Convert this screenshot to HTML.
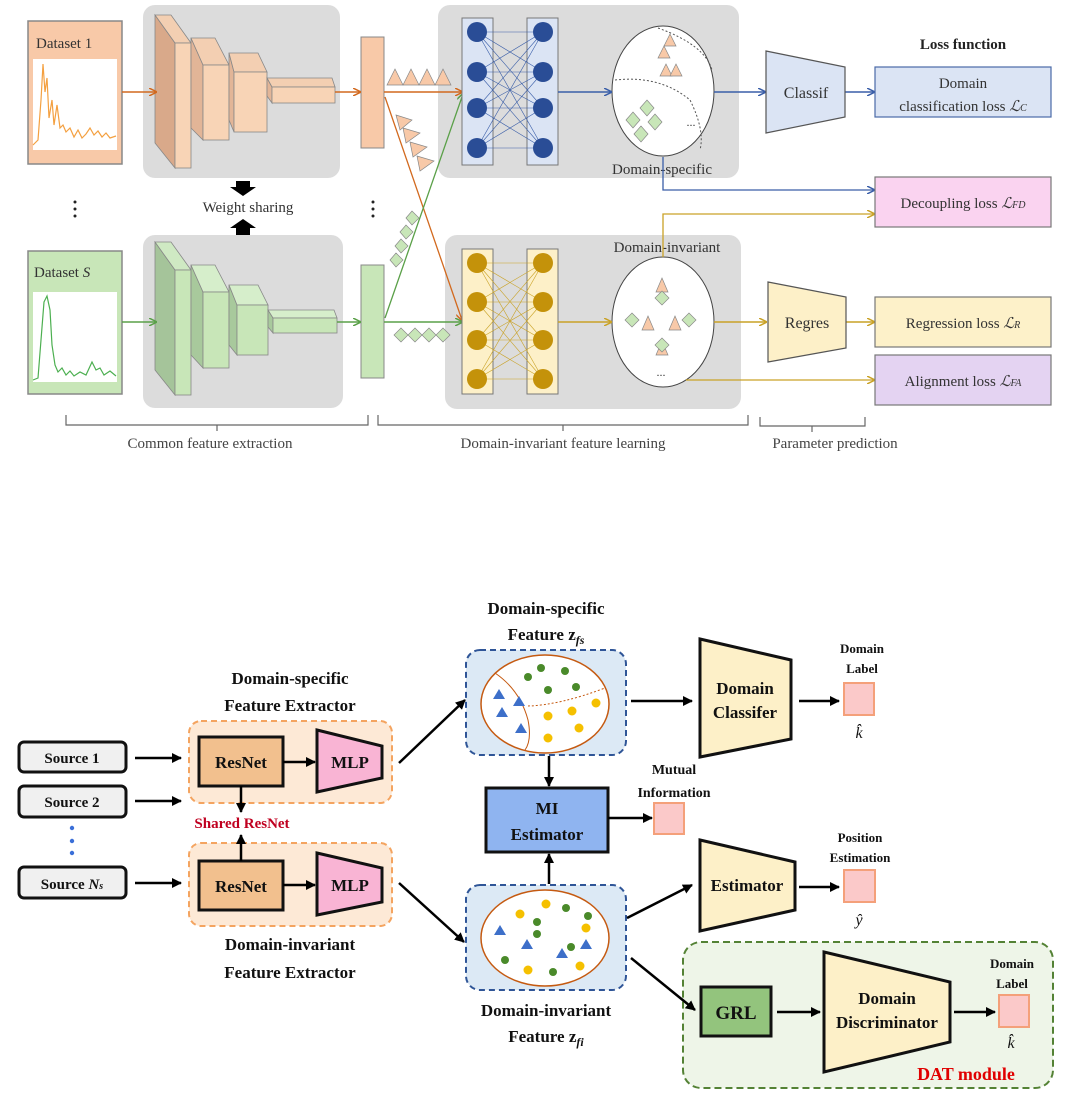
<!DOCTYPE html>
<html><head><meta charset="utf-8"><style>
html,body{margin:0;padding:0;background:#fff;}
svg{display:block;}
text{font-family:"Liberation Serif",serif;}
</style></head><body>
<svg width="1088" height="1118" viewBox="0 0 1088 1118" xmlns="http://www.w3.org/2000/svg">
<defs>
<marker id="ao" markerWidth="8" markerHeight="8" refX="7" refY="4" orient="auto" markerUnits="userSpaceOnUse"><path d="M0,0 L8,4 L0,8" fill="none" stroke="#d2691e" stroke-width="1.5"/></marker>
<marker id="ag" markerWidth="8" markerHeight="8" refX="7" refY="4" orient="auto" markerUnits="userSpaceOnUse"><path d="M0,0 L8,4 L0,8" fill="none" stroke="#5aa048" stroke-width="1.5"/></marker>
<marker id="ab" markerWidth="8" markerHeight="8" refX="7" refY="4" orient="auto" markerUnits="userSpaceOnUse"><path d="M0,0 L8,4 L0,8" fill="none" stroke="#3a5ea8" stroke-width="1.5"/></marker>
<marker id="ay" markerWidth="8" markerHeight="8" refX="7" refY="4" orient="auto" markerUnits="userSpaceOnUse"><path d="M0,0 L8,4 L0,8" fill="none" stroke="#c9a227" stroke-width="1.5"/></marker>
<marker id="ak" markerWidth="10" markerHeight="10" refX="9" refY="5" orient="auto" markerUnits="userSpaceOnUse"><path d="M0,0 L10,5 L0,10 Z" fill="#000"/></marker>
</defs>

<!-- ============ TOP DIAGRAM ============ -->
<rect x="143" y="5" width="197" height="173" rx="12" fill="#dcdcdc"/>
<rect x="143" y="235" width="200" height="173" rx="12" fill="#dcdcdc"/>
<rect x="438" y="5" width="301" height="173" rx="12" fill="#dcdcdc"/>
<rect x="445" y="235" width="296" height="174" rx="12" fill="#dcdcdc"/>

<!-- Dataset 1 -->
<rect x="28" y="21" width="94" height="143" fill="#f8c9a8" stroke="#888" stroke-width="1.5"/>
<rect x="33" y="59" width="84" height="91" fill="#fff"/>
<text x="36" y="48" font-size="15" fill="#333">Dataset 1</text>
<polyline points="33,145 38,140 41,100 43,64 45,92 47,78 49,118 52,100 54,125 57,105 60,128 63,125 66,132 70,128 74,137 78,130 82,138 86,134 90,128 94,135 98,131 102,137 106,133 110,138 116,136" fill="none" stroke="#f4a040" stroke-width="1.2"/>

<!-- Dataset S -->
<rect x="28" y="251" width="94" height="143" fill="#c8e6b8" stroke="#888" stroke-width="1.5"/>
<rect x="33" y="292" width="84" height="90" fill="#fff"/>
<text x="34" y="277" font-size="15" fill="#333">Dataset <tspan font-style="italic">S</tspan></text>
<polyline points="33,380 38,378 41,340 44,302 47,296 50,310 52,345 55,365 58,372 62,368 66,375 70,371 74,376 80,372 86,375 92,362 96,370 100,368 104,375 110,371 116,376" fill="none" stroke="#4caf50" stroke-width="1.2"/>

<!-- orange conv blocks -->
<g stroke="#888" stroke-width="0.8">
<polygon points="155,15 175,43 175,168 155,143" fill="#d9a98a"/>
<polygon points="155,15 171,15 191,43 175,43" fill="#f3cfb2"/>
<rect x="175" y="43" width="16" height="125" fill="#f8d4b6"/>
<polygon points="191,38 203,65 203,140 191,128" fill="#e2b597"/>
<polygon points="191,38 215,38 229,65 203,65" fill="#f3cfb2"/>
<rect x="203" y="65" width="26" height="75" fill="#f8d4b6"/>
<polygon points="229,53 234,72 234,132 229,120" fill="#e2b597"/>
<polygon points="229,53 258,53 267,72 234,72" fill="#f3cfb2"/>
<rect x="234" y="72" width="33" height="60" fill="#f8d4b6"/>
<polygon points="267,78 272,87 272,103 267,96" fill="#e2b597"/>
<polygon points="267,78 332,78 335,87 272,87" fill="#f3cfb2"/>
<rect x="272" y="87" width="63" height="16" fill="#f8d4b6"/>
</g>
<!-- green conv blocks -->
<g stroke="#888" stroke-width="0.8">
<polygon points="155,242 175,270 175,395 155,370" fill="#a5c49a"/>
<polygon points="155,242 171,242 191,270 175,270" fill="#cfe9c3"/>
<rect x="175" y="270" width="16" height="125" fill="#c8e6b8"/>
<polygon points="191,265 203,292 203,368 191,355" fill="#a8c99c"/>
<polygon points="191,265 215,265 229,292 203,292" fill="#d6eecb"/>
<rect x="203" y="292" width="26" height="76" fill="#c8e6b8"/>
<polygon points="229,285 237,305 237,355 229,345" fill="#a8c99c"/>
<polygon points="229,285 258,285 268,305 237,305" fill="#d6eecb"/>
<rect x="237" y="305" width="31" height="50" fill="#c8e6b8"/>
<polygon points="268,310 273,318 273,333 268,327" fill="#a8c99c"/>
<polygon points="268,310 334,310 337,318 273,318" fill="#d6eecb"/>
<rect x="273" y="318" width="64" height="15" fill="#c8e6b8"/>
</g>

<!-- bars -->
<rect x="361" y="37" width="23" height="111" fill="#f8c9a8" stroke="#888"/>
<rect x="361" y="265" width="23" height="113" fill="#c8e6b8" stroke="#888"/>

<!-- arrows orange -->
<line x1="122" y1="92" x2="156" y2="92" stroke="#d2691e" stroke-width="1.5" marker-end="url(#ao)"/>
<line x1="335" y1="92" x2="360" y2="92" stroke="#d2691e" stroke-width="1.5" marker-end="url(#ao)"/>
<line x1="384" y1="92" x2="462" y2="92" stroke="#d2691e" stroke-width="1.5" marker-end="url(#ao)"/>
<line x1="385" y1="97" x2="462" y2="320" stroke="#d2691e" stroke-width="1.3" marker-end="url(#ao)"/>
<!-- arrows green -->
<line x1="122" y1="322" x2="156" y2="322" stroke="#5aa048" stroke-width="1.5" marker-end="url(#ag)"/>
<line x1="337" y1="322" x2="360" y2="322" stroke="#5aa048" stroke-width="1.5" marker-end="url(#ag)"/>
<line x1="384" y1="322" x2="462" y2="322" stroke="#5aa048" stroke-width="1.5" marker-end="url(#ag)"/>
<line x1="385" y1="318" x2="463" y2="94" stroke="#5aa048" stroke-width="1.3" marker-end="url(#ag)"/>

<!-- triangles row -->
<g fill="#f8c9a8" stroke="#888" stroke-width="0.7">
<polygon points="387,85 395,69 403,85"/><polygon points="403,85 411,69 419,85"/><polygon points="419,85 427,69 435,85"/><polygon points="435,85 443,69 451,85"/>
<polygon points="396,115 412,120 400,130"/><polygon points="403,128 420,133 406,143"/><polygon points="410,142 427,147 413,157"/><polygon points="417,156 434,161 420,171"/>
</g>
<!-- diamonds -->
<g fill="#c8e6b8" stroke="#888" stroke-width="0.7">
<polygon points="394,335 401,328 408,335 401,342"/><polygon points="408,335 415,328 422,335 415,342"/><polygon points="422,335 429,328 436,335 429,342"/><polygon points="436,335 443,328 450,335 443,342"/>
<polygon points="406,218 412,211 419,218 412,225"/><polygon points="400,232 406,225 413,232 406,239"/><polygon points="395,246 401,239 408,246 401,253"/><polygon points="390,260 396,253 403,260 396,267"/>
</g>

<!-- dots -->
<g fill="#222"><circle cx="75" cy="202" r="1.5"/><circle cx="75" cy="209" r="1.5"/><circle cx="75" cy="216" r="1.5"/>
<circle cx="373" cy="202" r="1.5"/><circle cx="373" cy="209" r="1.5"/><circle cx="373" cy="216" r="1.5"/></g>
<text x="248" y="212" font-size="15" fill="#333" text-anchor="middle">Weight sharing</text>
<polygon points="236,181 250,181 250,187 256,187 243,196 230,187 236,187" fill="#000"/>
<polygon points="243,219 256,228 250,228 250,235 236,235 236,228 230,228" fill="#000"/>

<!-- neural nets top -->
<rect x="462" y="18" width="31" height="147" fill="#dbe4f4" stroke="#777"/>
<rect x="527" y="18" width="31" height="147" fill="#dbe4f4" stroke="#777"/>
<g stroke="#3a5ea8" stroke-width="0.6">
<line x1="477" y1="32" x2="543" y2="32"/><line x1="477" y1="32" x2="543" y2="72"/><line x1="477" y1="32" x2="543" y2="108"/><line x1="477" y1="32" x2="543" y2="148"/>
<line x1="477" y1="72" x2="543" y2="32"/><line x1="477" y1="72" x2="543" y2="72"/><line x1="477" y1="72" x2="543" y2="108"/><line x1="477" y1="72" x2="543" y2="148"/>
<line x1="477" y1="108" x2="543" y2="32"/><line x1="477" y1="108" x2="543" y2="72"/><line x1="477" y1="108" x2="543" y2="108"/><line x1="477" y1="108" x2="543" y2="148"/>
<line x1="477" y1="148" x2="543" y2="32"/><line x1="477" y1="148" x2="543" y2="72"/><line x1="477" y1="148" x2="543" y2="108"/><line x1="477" y1="148" x2="543" y2="148"/>
</g>
<g fill="#2a4d96"><circle cx="477" cy="32" r="10"/><circle cx="477" cy="72" r="10"/><circle cx="477" cy="108" r="10"/><circle cx="477" cy="148" r="10"/>
<circle cx="543" cy="32" r="10"/><circle cx="543" cy="72" r="10"/><circle cx="543" cy="108" r="10"/><circle cx="543" cy="148" r="10"/></g>

<!-- neural nets bottom -->
<rect x="462" y="249" width="31" height="145" fill="#fdf0c8" stroke="#777"/>
<rect x="527" y="249" width="31" height="145" fill="#fdf0c8" stroke="#777"/>
<g stroke="#c9a227" stroke-width="0.6">
<line x1="477" y1="263" x2="543" y2="263"/><line x1="477" y1="263" x2="543" y2="302"/><line x1="477" y1="263" x2="543" y2="340"/><line x1="477" y1="263" x2="543" y2="379"/>
<line x1="477" y1="302" x2="543" y2="263"/><line x1="477" y1="302" x2="543" y2="302"/><line x1="477" y1="302" x2="543" y2="340"/><line x1="477" y1="302" x2="543" y2="379"/>
<line x1="477" y1="340" x2="543" y2="263"/><line x1="477" y1="340" x2="543" y2="302"/><line x1="477" y1="340" x2="543" y2="340"/><line x1="477" y1="340" x2="543" y2="379"/>
<line x1="477" y1="379" x2="543" y2="263"/><line x1="477" y1="379" x2="543" y2="302"/><line x1="477" y1="379" x2="543" y2="340"/><line x1="477" y1="379" x2="543" y2="379"/>
</g>
<g fill="#c4920a"><circle cx="477" cy="263" r="10"/><circle cx="477" cy="302" r="10"/><circle cx="477" cy="340" r="10"/><circle cx="477" cy="379" r="10"/>
<circle cx="543" cy="263" r="10"/><circle cx="543" cy="302" r="10"/><circle cx="543" cy="340" r="10"/><circle cx="543" cy="379" r="10"/></g>

<!-- ellipses -->
<ellipse cx="663" cy="91" rx="51" ry="65" fill="#fff" stroke="#444" stroke-width="1"/>
<path d="M615,80 Q660,75 690,100 Q705,130 700,150" fill="none" stroke="#555" stroke-dasharray="2,2"/>
<path d="M658,28 Q705,45 712,70" fill="none" stroke="#555" stroke-dasharray="2,2"/>
<g fill="#f8c9a8" stroke="#888" stroke-width="0.7">
<polygon points="658,58 664,46 670,58"/><polygon points="664,46 670,34 676,46"/><polygon points="660,76 666,64 672,76"/><polygon points="670,76 676,64 682,76"/>
</g>
<g fill="#c8e6b8" stroke="#888" stroke-width="0.7">
<polygon points="640,108 647,100 654,108 647,116"/><polygon points="626,120 633,112 640,120 633,128"/><polygon points="648,122 655,114 662,122 655,130"/><polygon points="634,134 641,126 648,134 641,142"/>
</g>
<text x="691" y="126" font-size="12" fill="#333" text-anchor="middle">...</text>
<text x="662" y="174" font-size="15" fill="#333" text-anchor="middle">Domain-specific</text>

<ellipse cx="663" cy="322" rx="51" ry="65" fill="#fff" stroke="#444" stroke-width="1"/>
<g fill="#f8c9a8" stroke="#888" stroke-width="0.7">
<polygon points="656,292 662,278 668,292"/><polygon points="642,330 648,316 654,330"/><polygon points="669,330 675,316 681,330"/><polygon points="656,355 662,341 668,355"/>
</g>
<g fill="#c8e6b8" stroke="#888" stroke-width="0.7">
<polygon points="655,298 662,291 669,298 662,305"/><polygon points="625,320 632,313 639,320 632,327"/><polygon points="682,320 689,313 696,320 689,327"/><polygon points="655,345 662,338 669,345 662,352"/>
</g>
<text x="661" y="376" font-size="12" fill="#333" text-anchor="middle">...</text>
<text x="667" y="252" font-size="15" fill="#333" text-anchor="middle">Domain-invariant</text>

<line x1="558" y1="92" x2="611" y2="92" stroke="#3a5ea8" stroke-width="1.5" marker-end="url(#ab)"/>
<line x1="714" y1="92" x2="765" y2="92" stroke="#3a5ea8" stroke-width="1.5" marker-end="url(#ab)"/>
<line x1="845" y1="92" x2="874" y2="92" stroke="#3a5ea8" stroke-width="1.5" marker-end="url(#ab)"/>
<polyline points="663,157 663,190 874,190" fill="none" stroke="#3a5ea8" stroke-width="1.3" marker-end="url(#ab)"/>
<line x1="558" y1="322" x2="611" y2="322" stroke="#c9a227" stroke-width="1.5" marker-end="url(#ay)"/>
<line x1="714" y1="322" x2="766" y2="322" stroke="#c9a227" stroke-width="1.5" marker-end="url(#ay)"/>
<line x1="846" y1="322" x2="874" y2="322" stroke="#c9a227" stroke-width="1.5" marker-end="url(#ay)"/>
<polyline points="663,257 663,214 874,214" fill="none" stroke="#c9a227" stroke-width="1.3" marker-end="url(#ay)"/>
<line x1="686" y1="380" x2="874" y2="380" stroke="#c9a227" stroke-width="1.3" marker-end="url(#ay)"/>

<polygon points="766,51 845,67 845,117 766,133" fill="#dbe4f4" stroke="#555" stroke-width="1.2"/>
<text x="806" y="98" font-size="16" fill="#333" text-anchor="middle">Classif</text>
<polygon points="768,282 846,297 846,348 768,362" fill="#fdf0c8" stroke="#555" stroke-width="1.2"/>
<text x="807" y="328" font-size="16" fill="#333" text-anchor="middle">Regres</text>

<text x="963" y="49" font-size="15" font-weight="bold" fill="#222" text-anchor="middle">Loss function</text>
<rect x="875" y="67" width="176" height="50" fill="#dbe4f4" stroke="#4a6aa8" stroke-width="1.2"/>
<text x="963" y="88" font-size="15" fill="#333" text-anchor="middle">Domain</text>
<text x="963" y="111" font-size="15" fill="#333" text-anchor="middle">classification loss <tspan font-style="italic">ℒ</tspan><tspan font-size="10" font-style="italic">C</tspan></text>
<rect x="875" y="177" width="176" height="50" fill="#fad3f0" stroke="#777" stroke-width="1.2"/>
<text x="963" y="208" font-size="15" fill="#333" text-anchor="middle">Decoupling loss <tspan font-style="italic">ℒ</tspan><tspan font-size="10" font-style="italic">FD</tspan></text>
<rect x="875" y="297" width="176" height="50" fill="#fdf1c9" stroke="#777" stroke-width="1.2"/>
<text x="963" y="328" font-size="15" fill="#333" text-anchor="middle">Regression loss <tspan font-style="italic">ℒ</tspan><tspan font-size="10" font-style="italic">R</tspan></text>
<rect x="875" y="355" width="176" height="50" fill="#e4d3f2" stroke="#777" stroke-width="1.2"/>
<text x="963" y="386" font-size="15" fill="#333" text-anchor="middle">Alignment loss <tspan font-style="italic">ℒ</tspan><tspan font-size="10" font-style="italic">FA</tspan></text>

<!-- brackets -->
<g fill="none" stroke="#666" stroke-width="1.2">
<polyline points="66,415 66,425 368,425 368,415"/><line x1="217" y1="425" x2="217" y2="431"/>
<polyline points="378,415 378,425 748,425 748,415"/><line x1="563" y1="425" x2="563" y2="431"/>
<polyline points="760,417 760,426 865,426 865,417"/><line x1="812" y1="426" x2="812" y2="432"/>
</g>
<text x="210" y="448" font-size="15" fill="#444" text-anchor="middle">Common feature extraction</text>
<text x="563" y="448" font-size="15" fill="#444" text-anchor="middle">Domain-invariant feature learning</text>
<text x="835" y="448" font-size="15" fill="#444" text-anchor="middle">Parameter prediction</text>

<!-- ============ BOTTOM DIAGRAM ============ -->
<g font-weight="bold" font-size="15" fill="#111">
<rect x="19" y="742" width="107" height="30" rx="5" fill="#f0f0f0" stroke="#111" stroke-width="3"/>
<text x="72" y="763" text-anchor="middle">Source 1</text>
<rect x="19" y="786" width="107" height="31" rx="5" fill="#f0f0f0" stroke="#111" stroke-width="3"/>
<text x="72" y="807" text-anchor="middle">Source 2</text>
<rect x="19" y="867" width="107" height="31" rx="5" fill="#f0f0f0" stroke="#111" stroke-width="3"/>
<text x="72" y="889" text-anchor="middle">Source <tspan font-style="italic">N</tspan><tspan font-size="10" font-style="italic">s</tspan></text>
</g>
<g fill="#3a6fd8"><circle cx="72" cy="828" r="2.2"/><circle cx="72" cy="841" r="2.2"/><circle cx="72" cy="853" r="2.2"/></g>
<g stroke="#000" stroke-width="2.5">
<line x1="135" y1="758" x2="181" y2="758" marker-end="url(#ak)"/>
<line x1="135" y1="801" x2="181" y2="801" marker-end="url(#ak)"/>
<line x1="135" y1="883" x2="181" y2="883" marker-end="url(#ak)"/>
</g>

<rect x="189" y="721" width="203" height="82" rx="12" fill="#fde9d6" stroke="#f4a460" stroke-width="2" stroke-dasharray="6,4"/>
<rect x="189" y="843" width="203" height="83" rx="12" fill="#fde9d6" stroke="#f4a460" stroke-width="2" stroke-dasharray="6,4"/>
<rect x="199" y="737" width="84" height="49" fill="#f2c08e" stroke="#111" stroke-width="3"/>
<rect x="199" y="861" width="84" height="49" fill="#f2c08e" stroke="#111" stroke-width="3"/>
<polygon points="317,730 382,746 382,778 317,792" fill="#f9b4d4" stroke="#111" stroke-width="3"/>
<polygon points="317,853 382,868 382,902 317,915" fill="#f9b4d4" stroke="#111" stroke-width="3"/>
<g font-weight="bold" fill="#111">
<text x="241" y="768" font-size="17" text-anchor="middle">ResNet</text>
<text x="241" y="892" font-size="17" text-anchor="middle">ResNet</text>
<text x="350" y="768" font-size="17" text-anchor="middle">MLP</text>
<text x="350" y="891" font-size="17" text-anchor="middle">MLP</text>
<text x="290" y="684" font-size="17" text-anchor="middle">Domain-specific</text>
<text x="290" y="711" font-size="17" text-anchor="middle">Feature Extractor</text>
<text x="290" y="950" font-size="17" text-anchor="middle">Domain-invariant</text>
<text x="290" y="978" font-size="17" text-anchor="middle">Feature Extractor</text>
<text x="242" y="828" font-size="15" text-anchor="middle" fill="#c00020">Shared ResNet</text>
</g>
<g stroke="#000" stroke-width="2.5">
<line x1="283" y1="762" x2="315" y2="762" marker-end="url(#ak)"/>
<line x1="283" y1="885" x2="315" y2="885" marker-end="url(#ak)"/>
<line x1="241" y1="786" x2="241" y2="812" marker-end="url(#ak)"/>
<line x1="241" y1="861" x2="241" y2="835" marker-end="url(#ak)"/>
<line x1="399" y1="763" x2="465" y2="700" marker-end="url(#ak)"/>
<line x1="399" y1="883" x2="464" y2="942" marker-end="url(#ak)"/>
</g>

<!-- feature boxes -->
<text x="546" y="614" font-size="17" font-weight="bold" text-anchor="middle" fill="#111">Domain-specific</text>
<text x="546" y="640" font-size="17" font-weight="bold" text-anchor="middle" fill="#111">Feature <tspan>z</tspan><tspan font-size="12" font-style="italic" dy="4">fs</tspan></text>
<rect x="466" y="650" width="160" height="105" rx="14" fill="#dce9f5" stroke="#2f5597" stroke-width="2" stroke-dasharray="6,4"/>
<ellipse cx="545" cy="704" rx="64" ry="49" fill="#fff" stroke="#c55a11" stroke-width="1.5"/>
<path d="M495,673 Q520,690 528,720 Q532,740 525,750" fill="none" stroke="#c55a11" stroke-width="1"/>
<path d="M528,706 Q560,705 605,688" fill="none" stroke="#c55a11" stroke-width="1" stroke-dasharray="2,2"/>
<g fill="#3d6fc9"><polygon points="493,699 499,689 505,699"/><polygon points="513,706 519,696 525,706"/><polygon points="496,717 502,707 508,717"/><polygon points="515,733 521,723 527,733"/></g>
<g fill="#4a8a2a"><circle cx="528" cy="677" r="4"/><circle cx="541" cy="668" r="4"/><circle cx="565" cy="671" r="4"/><circle cx="576" cy="687" r="4"/><circle cx="548" cy="690" r="4"/></g>
<g fill="#f5c000"><circle cx="596" cy="703" r="4.5"/><circle cx="548" cy="716" r="4.5"/><circle cx="572" cy="711" r="4.5"/><circle cx="579" cy="728" r="4.5"/><circle cx="548" cy="738" r="4.5"/></g>

<rect x="466" y="885" width="160" height="105" rx="14" fill="#dce9f5" stroke="#2f5597" stroke-width="2" stroke-dasharray="6,4"/>
<ellipse cx="545" cy="938" rx="64" ry="48" fill="#fff" stroke="#c55a11" stroke-width="1.5"/>
<g fill="#3d6fc9"><polygon points="494,935 500,925 506,935"/><polygon points="521,949 527,939 533,949"/><polygon points="556,958 562,948 568,958"/><polygon points="580,949 586,939 592,949"/></g>
<g fill="#4a8a2a"><circle cx="537" cy="922" r="4"/><circle cx="566" cy="908" r="4"/><circle cx="505" cy="960" r="4"/><circle cx="537" cy="934" r="4"/><circle cx="571" cy="947" r="4"/><circle cx="553" cy="972" r="4"/><circle cx="588" cy="916" r="4"/></g>
<g fill="#f5c000"><circle cx="520" cy="914" r="4.5"/><circle cx="546" cy="904" r="4.5"/><circle cx="586" cy="928" r="4.5"/><circle cx="528" cy="970" r="4.5"/><circle cx="580" cy="966" r="4.5"/></g>
<text x="546" y="1016" font-size="17" font-weight="bold" text-anchor="middle" fill="#111">Domain-invariant</text>
<text x="546" y="1042" font-size="17" font-weight="bold" text-anchor="middle" fill="#111">Feature <tspan>z</tspan><tspan font-size="12" font-style="italic" dy="4">fi</tspan></text>

<rect x="486" y="788" width="122" height="64" fill="#8fb4f0" stroke="#111" stroke-width="3"/>
<text x="547" y="814" font-size="17" font-weight="bold" text-anchor="middle" fill="#111">MI</text>
<text x="547" y="840" font-size="17" font-weight="bold" text-anchor="middle" fill="#111">Estimator</text>
<g stroke="#000" stroke-width="2.5">
<line x1="549" y1="756" x2="549" y2="786" marker-end="url(#ak)"/>
<line x1="549" y1="884" x2="549" y2="854" marker-end="url(#ak)"/>
<line x1="608" y1="818" x2="652" y2="818" marker-end="url(#ak)"/>
<line x1="631" y1="701" x2="692" y2="701" marker-end="url(#ak)"/>
<line x1="799" y1="701" x2="839" y2="701" marker-end="url(#ak)"/>
<line x1="627" y1="918" x2="692" y2="885" marker-end="url(#ak)"/>
<line x1="799" y1="887" x2="839" y2="887" marker-end="url(#ak)"/>
</g>
<rect x="654" y="803" width="30" height="31" fill="#fbc9c9" stroke="#f4a07a" stroke-width="2"/>
<text x="674" y="774" font-size="14" font-weight="bold" text-anchor="middle" fill="#111">Mutual</text>
<text x="674" y="797" font-size="14" font-weight="bold" text-anchor="middle" fill="#111">Information</text>

<polygon points="700,639 791,660 791,739 700,757" fill="#fdf0c8" stroke="#111" stroke-width="3"/>
<text x="745" y="694" font-size="17" font-weight="bold" text-anchor="middle" fill="#111">Domain</text>
<text x="745" y="718" font-size="17" font-weight="bold" text-anchor="middle" fill="#111">Classifer</text>
<rect x="844" y="683" width="30" height="32" fill="#fbc9c9" stroke="#f4a07a" stroke-width="2"/>
<text x="862" y="653" font-size="13" font-weight="bold" text-anchor="middle" fill="#111">Domain</text>
<text x="862" y="673" font-size="13" font-weight="bold" text-anchor="middle" fill="#111">Label</text>
<text x="859" y="738" font-size="16" font-style="italic" text-anchor="middle" fill="#111">k̂</text>

<polygon points="700,840 795,862 795,910 700,931" fill="#fdf0c8" stroke="#111" stroke-width="3"/>
<text x="747" y="891" font-size="17" font-weight="bold" text-anchor="middle" fill="#111">Estimator</text>
<rect x="844" y="870" width="31" height="32" fill="#fbc9c9" stroke="#f4a07a" stroke-width="2"/>
<text x="860" y="842" font-size="13" font-weight="bold" text-anchor="middle" fill="#111">Position</text>
<text x="860" y="862" font-size="13" font-weight="bold" text-anchor="middle" fill="#111">Estimation</text>
<text x="859" y="925" font-size="16" font-style="italic" text-anchor="middle" fill="#111">ŷ</text>

<rect x="683" y="942" width="370" height="146" rx="18" fill="#eef5e8" stroke="#548235" stroke-width="2" stroke-dasharray="7,4"/>
<g stroke="#000" stroke-width="2.5">
<line x1="631" y1="958" x2="695" y2="1010" marker-end="url(#ak)"/>
<line x1="777" y1="1012" x2="820" y2="1012" marker-end="url(#ak)"/>
<line x1="954" y1="1012" x2="995" y2="1012" marker-end="url(#ak)"/>
</g>
<rect x="701" y="987" width="70" height="49" fill="#93c47d" stroke="#111" stroke-width="3"/>
<text x="736" y="1019" font-size="19" font-weight="bold" text-anchor="middle" fill="#111">GRL</text>
<polygon points="824,952 950,982 950,1042 824,1072" fill="#fdf0c8" stroke="#111" stroke-width="3"/>
<text x="887" y="1004" font-size="17" font-weight="bold" text-anchor="middle" fill="#111">Domain</text>
<text x="887" y="1028" font-size="17" font-weight="bold" text-anchor="middle" fill="#111">Discriminator</text>
<rect x="999" y="995" width="30" height="32" fill="#fbc9c9" stroke="#f4a07a" stroke-width="2"/>
<text x="1012" y="968" font-size="13" font-weight="bold" text-anchor="middle" fill="#111">Domain</text>
<text x="1012" y="988" font-size="13" font-weight="bold" text-anchor="middle" fill="#111">Label</text>
<text x="1011" y="1048" font-size="16" font-style="italic" text-anchor="middle" fill="#111">k̂</text>
<text x="966" y="1080" font-size="18" font-weight="bold" text-anchor="middle" fill="#e00000">DAT module</text>
</svg>
</body></html>
